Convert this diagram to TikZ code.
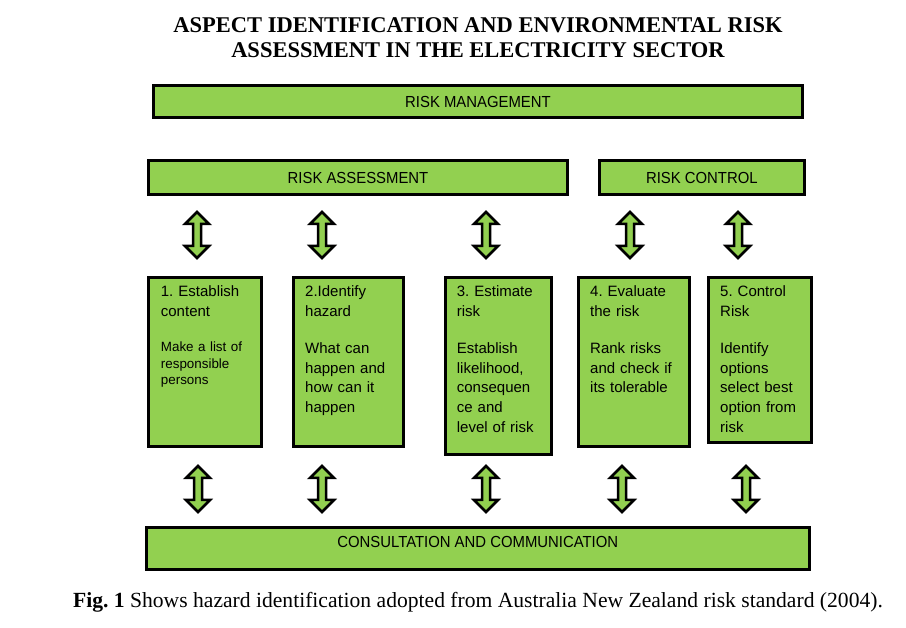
\documentclass[tikz,border=0pt]{standalone}
\usepackage{fontspec}
\setmainfont{Liberation Serif}
\newfontfamily\sansf{Liberation Sans}
\newfontfamily\bandf[FakeStretch=0.93]{Liberation Sans}
\definecolor{boxgreen}{HTML}{92D050}
\frenchspacing
\newcommand\dblarrow[3]{%
  \coordinate (#1) at (#2,#3);
  \draw[arrowstyle] (#1) -- ++(12,12) -- ++(-8,0) -- ++(0,22) -- ++(8,0) -- ++(-12,12)
    -- ++(-12,-12) -- ++(8,0) -- ++(0,-22) -- ++(-8,0) -- cycle;}
\begin{document}
\begin{tikzpicture}[x=1pt,y=-1pt,
  band/.style={draw=black, line width=3pt, fill=boxgreen, inner sep=0pt, anchor=north west,
    font=\bandf\fontsize{16}{19}\selectfont, text height=11.6pt, text depth=0pt},
  stepbox/.style={draw=black, line width=3pt, fill=boxgreen, inner sep=0pt, anchor=north west},
  headtxt/.style={anchor=base west, inner sep=0pt, text width=100pt, align=left,
    font=\sansf\frenchspacing\fontsize{15}{19.75}\selectfont},
  bodytxt/.style={anchor=base west, inner sep=0pt, text width=100pt, align=left,
    font=\sansf\frenchspacing\fontsize{15}{19.75}\selectfont},
  smalltxt/.style={anchor=base west, inner sep=0pt, text width=100pt, align=left,
    font=\sansf\frenchspacing\fontsize{13.4}{16.5}\selectfont},
  arrowstyle/.style={draw=black, line width=2.5pt, fill=boxgreen, line join=miter, miter limit=3},
  titletxt/.style={anchor=base, inner sep=0pt, font=\bfseries\fontsize{22.5}{25}\selectfont}
]
\useasboundingbox (0,0) rectangle (906,628);
\fill[white] (0,0) rectangle (906,628);

% title
\node[titletxt] (t1) at (478,33) {ASPECT IDENTIFICATION AND ENVIRONMENTAL RISK};
\node[titletxt] (t2) at (478,58) {ASSESSMENT IN THE ELECTRICITY SECTOR};

% bands
\node[band, minimum width=648.4pt, minimum height=32pt] (rm) at (152.3,84) {RISK MANAGEMENT};
\node[band, minimum width=419.6pt, minimum height=34pt] (ra) at (146.7,159.3) {RISK ASSESSMENT};
\node[band, minimum width=205.3pt, minimum height=34pt] (rc) at (597.7,159.3) {RISK CONTROL};
\node[band, minimum width=662.5pt, minimum height=42pt, text depth=13pt] (cc) at (145,525.7) {CONSULTATION AND COMMUNICATION};

% step boxes
\node[stepbox, minimum width=113pt, minimum height=169pt] (b1) at (146.5,276.5) {};
\node[stepbox, minimum width=110pt, minimum height=169pt] (b2) at (291.5,276.5) {};
\node[stepbox, minimum width=106pt, minimum height=177pt] (b3) at (443.5,276.5) {};
\node[stepbox, minimum width=111pt, minimum height=168.5pt] (b4) at (576.5,276.5) {};
\node[stepbox, minimum width=103pt, minimum height=165pt] (b5) at (706.5,276.5) {};

% texts in step boxes
\node[headtxt] (h1) at (160.7,297) {1. Establish\\content};
\node[smalltxt] (d1) at (160.7,352) {Make a list of\\responsible\\persons};
\node[headtxt] (h2) at (305,297) {2.Identify\\hazard};
\node[bodytxt] (d2) at (305,353.5) {What can\\happen and\\how can it\\happen};
\node[headtxt] (h3) at (456.7,297) {3. Estimate\\risk};
\node[bodytxt] (d3) at (456.7,353.5) {Establish\\likelihood,\\consequen\\ce and\\level of risk};
\node[headtxt] (h4) at (590,297) {4. Evaluate\\the risk};
\node[bodytxt] (d4) at (590,353.5) {Rank risks\\and check if\\its tolerable};
\node[headtxt] (h5) at (720,297) {5. Control\\Risk};
\node[bodytxt] (d5) at (720,353.5) {Identify\\options\\select best\\option from\\risk};

% double arrows, top row
\dblarrow{a1}{197}{212}
\dblarrow{a2}{322}{212}
\dblarrow{a3}{486}{212}
\dblarrow{a4}{630}{212}
\dblarrow{a5}{738}{212}
% double arrows, bottom row
\dblarrow{c1}{198}{466}
\dblarrow{c2}{322}{466}
\dblarrow{c3}{486}{466}
\dblarrow{c4}{622}{466}
\dblarrow{c5}{746}{466}

% caption
\node[anchor=base, inner sep=0pt, font=\frenchspacing\fontsize{21.6}{24}\selectfont] (cap) at (478,607)
  {\textbf{Fig. 1} Shows hazard identification adopted from Australia New Zealand risk standard (2004).};
\end{tikzpicture}
\end{document}
